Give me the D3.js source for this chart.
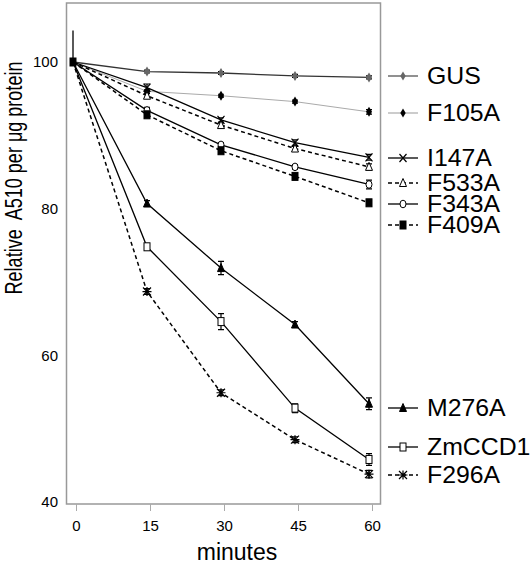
<!DOCTYPE html>
<html><head><meta charset="utf-8">
<script src="https://cdn.jsdelivr.net/npm/d3@7"></script>
<style>body{margin:0;background:#fff}svg{display:block}text{font-family:"Liberation Sans",Arial,sans-serif;fill:#000}</style>
</head><body><svg id="c" width="531" height="564"></svg>
<script>
const minutes = [0, 15, 30, 45, 60];
const xTicks = [0, 15, 30, 45, 60];
const yTicks = [40, 60, 80, 100];
const seriesNames = ["GUS","F105A","I147A","F533A","F343A","F409A","M276A","ZmCCD1","F296A"];
const gus    = [100, 98.7, 98.5, 98.1, 97.9];
const f105a  = [100, 96.0, 95.4, 94.6, 93.2];
const i147a  = [100, 96.5, 92.1, 89.0, 87.0];
const f533a  = [100, 95.4, 91.4, 88.2, 85.7];
const f343a  = [100, 93.4, 88.7, 85.7, 83.3];
const f409a  = [100, 92.8, 87.9, 84.4, 80.8];
const m276a  = [100, 80.7, 71.9, 64.2, 53.4];
const zmccd1 = [100, 74.8, 64.6, 52.8, 45.8];
const f296a  = [100, 68.7, 54.9, 48.5, 43.8];
const gusErr    = [0, 0.2, 0.2, 0.2, 0.2];
const f105aErr  = [0, 0.2, 0.2, 0.2, 0.3];
const i147aErr  = [0, 0.5, 0.3, 0.4, 0.4];
const f533aErr  = [0, 0.3, 0.3, 0.3, 0.4];
const f343aErr  = [0, 0.4, 0.3, 0.3, 0.6];
const f409aErr  = [0, 0.3, 0.3, 0.3, 0.3];
const m276aErr  = [0, 0.4, 0.9, 0.4, 0.8];
const zmccd1Err = [4.3, 0.4, 1.1, 0.6, 0.8];
const f296aErr  = [0, 0.4, 0.4, 0.4, 0.5];

const values = [gus,f105a,i147a,f533a,f343a,f409a,m276a,zmccd1,f296a];
const errs = [gusErr,f105aErr,i147aErr,f533aErr,f343aErr,f409aErr,m276aErr,zmccd1Err,f296aErr];
const styles = [
  {marker:"diamond", fill:"#666", stroke:"#333", dash:null, lw:1.3},
  {marker:"diamond", fill:"#000", stroke:"#aaa", dash:null, lw:1},
  {marker:"x", fill:"none", stroke:"#000", dash:null, lw:1.3},
  {marker:"triangle", fill:"#fff", stroke:"#000", dash:"4,3", lw:1.5},
  {marker:"circle", fill:"#fff", stroke:"#000", dash:null, lw:1.3},
  {marker:"square", fill:"#000", stroke:"#000", dash:"4,3", lw:1.5},
  {marker:"triangle", fill:"#000", stroke:"#000", dash:null, lw:1.3},
  {marker:"square", fill:"#fff", stroke:"#000", dash:null, lw:1.3},
  {marker:"asterisk", fill:"none", stroke:"#000", dash:"4,3", lw:1.5}
];
const legendYs = [76, 113, 158, 183, 204, 225, 408, 447, 475];

const svg = d3.select("#c");
const x = d3.scaleLinear().domain([0, 60]).range([73, 369]);
const y = d3.scaleLinear().domain([40, 100]).range([502, 62]);

svg.append("rect").attr("x",66.5).attr("y",3).attr("width",314).attr("height",501)
  .attr("fill","none").attr("stroke","#999").attr("stroke-width",1.5);

const xa = svg.append("g").attr("transform","translate(3,504)")
  .call(d3.axisBottom(x).tickValues(xTicks).tickSize(7).tickPadding(9));
xa.select(".domain").remove();
xa.selectAll("line").attr("stroke","#aaa");
xa.selectAll("text").attr("font-size",15).attr("font-family","Liberation Sans, Arial, sans-serif");

const ya = svg.append("g").attr("transform","translate(66,0)")
  .call(d3.axisLeft(y).tickValues(yTicks).tickSize(0).tickPadding(8));
ya.select(".domain").remove();
ya.selectAll("text").attr("font-size",15).attr("font-family","Liberation Sans, Arial, sans-serif");

svg.append("text").attr("x",237).attr("y",560).attr("text-anchor","middle")
  .attr("font-size",23).text("minutes");
svg.append("text").attr("transform","translate(22,178) rotate(-90) scale(0.82,1.1)")
  .attr("text-anchor","middle").attr("font-size",22).attr("xml:space","preserve")
  .text("Relative  A510 per \u03bcg protein");

function drawMarker(g, type, cx, cy, st, s) {
  s = s || 1;
  if (type === "diamond") {
    g.append("path").attr("d",`M${cx},${cy-5*s}L${cx+3*s},${cy}L${cx},${cy+5*s}L${cx-3*s},${cy}Z`)
      .attr("fill", st.fill).attr("stroke","none");
  } else if (type === "x") {
    g.append("path").attr("d",`M${cx-3.5},${cy-4}L${cx+3.5},${cy+4}M${cx+3.5},${cy-4}L${cx-3.5},${cy+4}`)
      .attr("stroke","#000").attr("stroke-width",1.2);
  } else if (type === "triangle") {
    g.append("path").attr("d",`M${cx},${cy-4.5}L${cx+3.5},${cy+3.5}L${cx-3.5},${cy+3.5}Z`)
      .attr("fill", st.fill).attr("stroke","#000").attr("stroke-width",1);
  } else if (type === "circle") {
    g.append("ellipse").attr("cx",cx).attr("cy",cy).attr("rx",3).attr("ry",3.8)
      .attr("fill","#fff").attr("stroke","#000").attr("stroke-width",1);
  } else if (type === "square") {
    g.append("rect").attr("x",cx-3).attr("y",cy-4).attr("width",6).attr("height",8)
      .attr("fill", st.fill).attr("stroke","#000").attr("stroke-width",1);
  } else if (type === "asterisk") {
    g.append("path").attr("d",`M${cx-4},${cy-4}L${cx+4},${cy+4}M${cx+4},${cy-4}L${cx-4},${cy+4}M${cx-4.5},${cy}L${cx+4.5},${cy}M${cx},${cy-4.5}L${cx},${cy+4.5}`)
      .attr("stroke","#000").attr("stroke-width",1.2);
  }
}

const line = d3.line().x((d,i)=>x(minutes[i])).y(d=>y(d));
values.forEach((vals, k) => {
  const st = styles[k];
  svg.append("path").attr("d", line(vals)).attr("fill","none")
    .attr("stroke", st.stroke).attr("stroke-width", st.lw)
    .attr("stroke-dasharray", st.dash);
});
values.forEach((vals, k) => {
  const st = styles[k];
  const g = svg.append("g");
  vals.forEach((v, i) => {
    const e = errs[k][i];
    const cx = x(minutes[i]);
    if (e > 0 && i === 0) {
      g.append("path").attr("d",`M${cx},${y(v+e)}L${cx},${y(v)}`)
        .attr("stroke","#000").attr("stroke-width",1.3);
    } else if (e > 0) {
      g.append("path").attr("d",`M${cx},${y(v+e)}L${cx},${y(v-e)}M${cx-3},${y(v+e)}L${cx+3},${y(v+e)}M${cx-3},${y(v-e)}L${cx+3},${y(v-e)}`)
        .attr("stroke","#000").attr("stroke-width",1.2).attr("fill","none");
    }
    if (i > 0) drawMarker(g, st.marker, cx, y(v), st);
  });
});
svg.append("rect").attr("x",x(0)-3.5).attr("y",y(100)-4.5).attr("width",7).attr("height",9).attr("fill","#000");

const lg = svg.append("g");
seriesNames.forEach((name, k) => {
  const st = styles[k];
  const ly = legendYs[k];
  lg.append("line").attr("x1",388).attr("x2",418).attr("y1",ly).attr("y2",ly)
    .attr("stroke", k===1 ? "#999" : (k===0 ? "#555" : "#000")).attr("stroke-width", st.lw)
    .attr("stroke-dasharray", st.dash ? "4,3" : null);
  drawMarker(lg, st.marker, 403, ly, st, 0.9);
  lg.append("text").attr("transform",`translate(427,${ly+8}) scale(1.08,1)`)
    .attr("font-size",23).text(name);
});
</script></body></html>
